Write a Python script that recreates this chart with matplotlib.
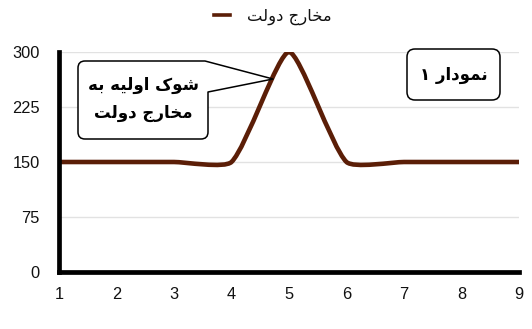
import numpy as np
import matplotlib
matplotlib.use("Agg")
import matplotlib.pyplot as plt
from matplotlib.path import Path
from matplotlib.patches import PathPatch
from matplotlib.transforms import Affine2D
from matplotlib.lines import Line2D

# ---- data -------------------------------------------------------------
periods = [1, 2, 3, 4, 5, 6, 7, 8, 9]
gov_spending = [150, 150, 150, 150, 300, 150, 150, 150, 150]
y_ticks = [0, 75, 150, 225, 300]
series_label = "مخارج دولت"
callout_lines = ["شوک اولیه به", "مخارج دولت"]
chart_title = "نمودار ۱"

LINE_COLOR = "#5b1e07"
W, H = 532, 329

plt.rcParams["font.family"] = ["Liberation Sans", "DejaVu Sans"]

# ---- minimal Arabic/Persian shaping (matplotlib lays glyphs out LTR) ---
# isolated, final, initial, medial
FORMS = {
    "ا": ("\uFE8D", "\uFE8E", None, None),
    "ب": ("\uFE8F", "\uFE90", "\uFE91", "\uFE92"),
    "ت": ("\uFE95", "\uFE96", "\uFE97", "\uFE98"),
    "ج": ("\uFE9D", "\uFE9E", "\uFE9F", "\uFEA0"),
    "خ": ("\uFEA5", "\uFEA6", "\uFEA7", "\uFEA8"),
    "د": ("\uFEA9", "\uFEAA", None, None),
    "ر": ("\uFEAD", "\uFEAE", None, None),
    "ش": ("\uFEB5", "\uFEB6", "\uFEB7", "\uFEB8"),
    "ل": ("\uFEDD", "\uFEDE", "\uFEDF", "\uFEE0"),
    "م": ("\uFEE1", "\uFEE2", "\uFEE3", "\uFEE4"),
    "ن": ("\uFEE5", "\uFEE6", "\uFEE7", "\uFEE8"),
    "ه": ("\uFEE9", "\uFEEA", "\uFEEB", "\uFEEC"),
    "و": ("\uFEED", "\uFEEE", None, None),
    "ک": ("\uFB8E", "\uFB8F", "\uFB90", "\uFB91"),
    "ی": ("\uFBFC", "\uFBFD", "\uFBFE", "\uFBFF"),
}


def shape(text):
    out = []
    for i, c in enumerate(text):
        if c not in FORMS:
            out.append(c)
            continue
        iso, fin, ini, med = FORMS[c]
        prev = text[i - 1] if i > 0 else None
        nxt = text[i + 1] if i + 1 < len(text) else None
        joins_prev = prev in FORMS and FORMS[prev][2] is not None
        joins_next = nxt in FORMS and ini is not None
        if joins_prev and joins_next:
            out.append(med)
        elif joins_prev:
            out.append(fin)
        elif joins_next:
            out.append(ini)
        else:
            out.append(iso)
    return "".join(reversed(out))


AR = ["DejaVu Sans"]

# ---- figure / axes ----------------------------------------------------
fig = plt.figure(figsize=(W / 100, H / 100), dpi=100)
ax = fig.add_axes([59 / W, (H - 272) / H, 460 / W, 220 / H])
ax.set_xlim(1, 9)
ax.set_ylim(0, 300)
ax.set_xticks(periods)
ax.set_yticks(y_ticks)
ax.tick_params(length=0, labelsize=11.8, colors="#111111")
ax.tick_params(axis="y", pad=14)
ax.tick_params(axis="x", pad=11)
for side in ("top", "right"):
    ax.spines[side].set_visible(False)
for side in ("left", "bottom"):
    ax.spines[side].set_linewidth(3.4)
    ax.spines[side].set_color("black")
    ax.spines[side].set_capstyle("projecting")
    ax.spines[side].set_zorder(5)
for v in y_ticks[1:]:
    ax.axhline(v, color="#e2e2e2", lw=1.0, zorder=0)


# ---- smoothed line (cardinal bezier through every point) --------------
def spline_path(xs, ys, tension):
    pts = ax.transData.transform(np.column_stack([xs, ys]))
    n = len(pts)
    cp_in, cp_out = [], []
    for i in range(n):
        prev = pts[max(i - 1, 0)]
        cur = pts[i]
        nxt = pts[min(i + 1, n - 1)]
        d01 = np.hypot(*(cur - prev))
        d12 = np.hypot(*(nxt - cur))
        tot = d01 + d12
        s01 = d01 / tot if tot else 0.0
        s12 = d12 / tot if tot else 0.0
        cp_in.append(cur - tension * s01 * (nxt - prev))
        cp_out.append(cur + tension * s12 * (nxt - prev))
    verts = [pts[0]]
    codes = [Path.MOVETO]
    for i in range(n - 1):
        verts += [cp_out[i], cp_in[i + 1], pts[i + 1]]
        codes += [Path.CURVE4] * 3
    verts = ax.transData.inverted().transform(np.array(verts))
    return Path(verts, codes)


curve = spline_path(periods, gov_spending, tension=0.19)
ax.add_patch(PathPatch(curve, fill=False, ec=LINE_COLOR, lw=3.3,
                       capstyle="butt", joinstyle="round", zorder=3))

# ---- legend -----------------------------------------------------------
handle = Line2D([], [], color=LINE_COLOR, lw=2.6)
fig.legend([handle], [shape(series_label)], loc="center",
           bbox_to_anchor=(273 / W, 1 - 17 / H), frameon=False,
           prop={"family": AR, "size": 11.8}, handlelength=0.95,
           handletextpad=1.05, borderpad=0, labelcolor="#111111")

# ---- callouts (pixel coordinates, measured from the top-left) --------
px = Affine2D().scale(1, -1).translate(0, H)


def rounded_box(x0, y0, x1, y1, r, tail=None):
    """Rounded rectangle; optional tail = (start_on_top_x, tip, end_on_right_y)."""
    v, c = [], []
    v += [(x0 + r, y0)]; c += [Path.MOVETO]
    if tail is None:
        v += [(x1 - r, y0)]; c += [Path.LINETO]
        v += [(x1, y0), (x1, y0 + r)]; c += [Path.CURVE3] * 2
    else:
        tx, tip, ty = tail
        v += [(tx, y0), tip, (x1, ty)]; c += [Path.LINETO] * 3
    v += [(x1, y1 - r)]; c += [Path.LINETO]
    v += [(x1, y1), (x1 - r, y1)]; c += [Path.CURVE3] * 2
    v += [(x0 + r, y1)]; c += [Path.LINETO]
    v += [(x0, y1), (x0, y1 - r)]; c += [Path.CURVE3] * 2
    v += [(x0, y0 + r)]; c += [Path.LINETO]
    v += [(x0, y0), (x0 + r, y0)]; c += [Path.CURVE3] * 2
    v += [(x0 + r, y0)]; c += [Path.CLOSEPOLY]
    return Path(v, c)


box1 = rounded_box(78, 61, 208, 139, 7, tail=(205, (273, 79), 92))
fig.patches.append(PathPatch(box1, transform=px, fc="white", ec="black",
                             lw=1.1, joinstyle="round", zorder=6))
for k, line in enumerate(callout_lines):
    fig.text(143 / W, 1 - (85 + 28 * k) / H, shape(line), family=AR,
             weight="bold", size=12, ha="center", va="center", zorder=7)

box2 = rounded_box(407, 49, 500, 100, 8)
fig.patches.append(PathPatch(box2, transform=px, fc="white", ec="black",
                             lw=1.1, zorder=6))
fig.text(453.5 / W, 1 - 75 / H, shape(chart_title), family=AR,
         weight="bold", size=12, ha="center", va="center", zorder=7)

fig.savefig("out.png", dpi=100, facecolor="white")
